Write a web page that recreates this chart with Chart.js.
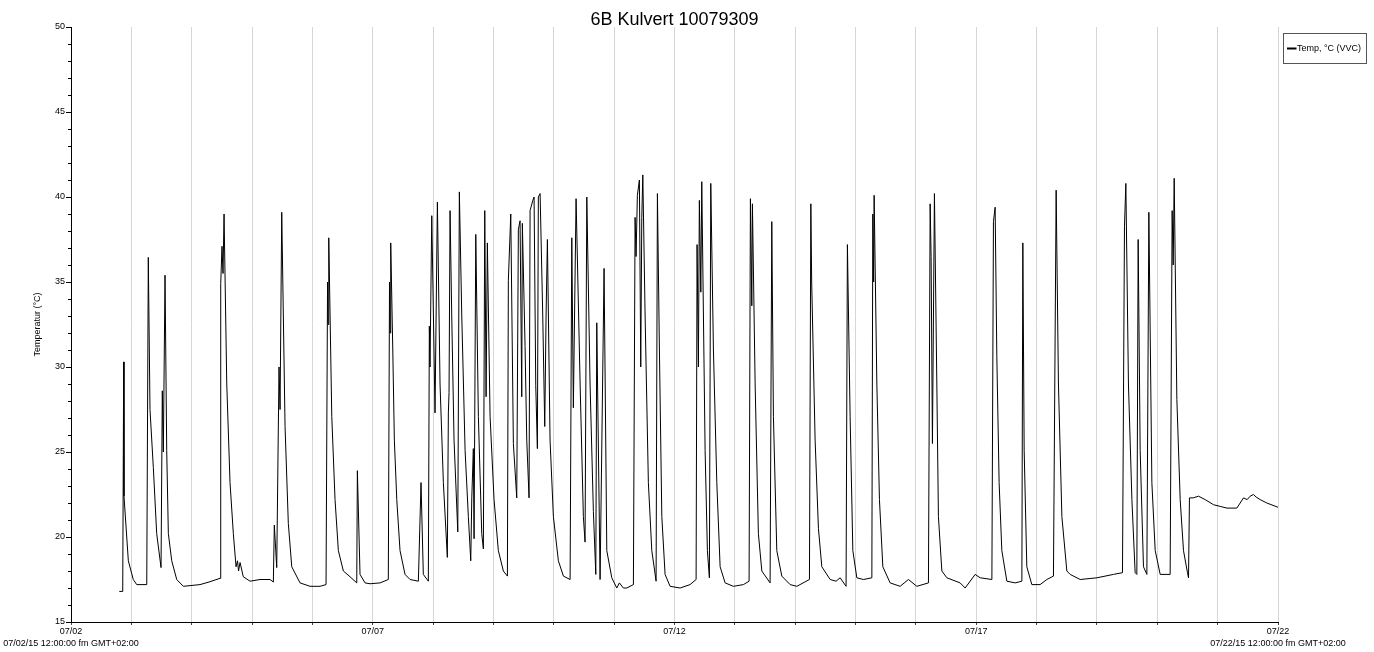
<!DOCTYPE html>
<html>
<head>
<meta charset="utf-8">
<title>6B Kulvert 10079309</title>
<script src="https://cdn.jsdelivr.net/npm/chart.js@4.4.0/dist/chart.umd.min.js"></script>
<style>
  html, body { margin: 0; padding: 0; background: #fff; }
  #wrap { width: 1374px; height: 652px; position: relative; }
</style>
</head>
<body>
<div id="wrap"><canvas id="chart"></canvas></div>
<script>
const chartTitle = "6B Kulvert 10079309";
const seriesLabel = "Temp, °C (VVC)";
const yTitle = "Temperatur (°C)";

// x tick labels (days since 07/02 00:00)
const tickDays = [0, 5, 10, 15, 20];
const tickLabels = ["07/02", "07/07", "07/12", "07/17", "07/22"];
const startStamp = "07/02/15 12:00:00 fm GMT+02:00";
const endStamp = "07/22/15 12:00:00 fm GMT+02:00";

// readings: time in days, temperature in °C
const days = [
  0.80, 0.857, 0.873, 0.878, 0.950, 1.032, 1.089,
  1.255, 1.281, 1.309, 1.364, 1.420, 1.492, 1.513, 1.530, 1.558, 1.586, 1.613, 1.669, 1.752, 1.861,
  2.138, 2.304, 2.469, 2.481, 2.502, 2.519, 2.536, 2.581, 2.635, 2.690, 2.735, 2.759, 2.776, 2.801, 2.855, 2.967,
  3.132, 3.298, 3.353, 3.369, 3.409, 3.447, 3.464, 3.492, 3.547, 3.601, 3.658, 3.795, 3.961,
  4.127, 4.226, 4.251, 4.259, 4.271, 4.321, 4.375, 4.430, 4.513, 4.624,
  4.735, 4.745, 4.789, 4.872, 4.955, 5.121,
  5.258, 5.278, 5.287, 5.298, 5.332, 5.358, 5.398, 5.452, 5.535, 5.618,
  5.756, 5.800, 5.838, 5.921,
  5.938, 5.949, 5.978, 6.032, 6.071, 6.115, 6.170, 6.236,
  6.253, 6.264, 6.281, 6.309, 6.347, 6.409,
  6.435, 6.475, 6.530, 6.584, 6.624, 6.641, 6.667, 6.679,
  6.707, 6.750, 6.806, 6.833, 6.856, 6.878, 6.899, 6.944, 7.010, 7.081, 7.164, 7.231,
  7.247, 7.287, 7.330, 7.386, 7.413, 7.441, 7.469, 7.479, 7.524, 7.552, 7.590,
  7.607, 7.652, 7.673, 7.701, 7.728, 7.744, 7.773, 7.817, 7.850, 7.872, 7.894, 7.938, 7.993, 8.076, 8.159, 8.270,
  8.298, 8.324, 8.369, 8.436, 8.490, 8.518, 8.547, 8.601, 8.656, 8.696, 8.712, 8.767, 8.833, 8.878, 8.961,
  9.044, 9.087, 9.153, 9.209, 9.319,
  9.347, 9.363, 9.385, 9.418, 9.441, 9.458, 9.475, 9.513, 9.567, 9.624, 9.695,
  9.717, 9.750, 9.790, 9.844, 9.927, 10.093, 10.258, 10.358,
  10.374, 10.396, 10.412, 10.436, 10.452, 10.507, 10.545, 10.578,
  10.601, 10.645, 10.701, 10.756, 10.839, 10.976, 11.142, 11.236,
  11.258, 11.281, 11.291, 11.336, 11.390, 11.447, 11.584,
  11.612, 11.639, 11.695, 11.778, 11.916, 12.027, 12.236,
  12.259, 12.273, 12.330, 12.385, 12.441, 12.579, 12.678, 12.745, 12.843,
  12.865, 12.910, 12.955, 13.021, 13.130, 13.270,
  13.286, 13.300, 13.308, 13.353, 13.396, 13.452, 13.573, 13.739, 13.876, 14.016, 14.208,
  14.236, 14.252, 14.274, 14.307, 14.347, 14.373, 14.430, 14.513, 14.733, 14.816, 14.982, 15.065, 15.259,
  15.285, 15.313, 15.341, 15.379, 15.424, 15.507, 15.645, 15.756,
  15.772, 15.794, 15.838, 15.921, 16.058, 16.169, 16.279,
  16.324, 16.362, 16.419, 16.501, 16.556, 16.722, 16.999, 17.274, 17.423,
  17.456, 17.479, 17.522, 17.579, 17.633, 17.661,
  17.683, 17.716, 17.771, 17.827, 17.860, 17.910, 17.965, 18.048, 18.213,
  18.246, 18.263, 18.280, 18.324, 18.379, 18.434, 18.500, 18.517,
  18.533, 18.594, 18.683, 18.793, 18.931, 19.042, 19.153, 19.318, 19.373, 19.428, 19.489, 19.539, 19.593, 19.638, 19.704, 19.815, 20.0
];
const temps = [
  16.8, 16.8, 30.3, 22.4, 18.6, 17.5, 17.2,
  17.2, 36.45, 27.5, 24.1, 20.2, 18.2, 28.6, 25.0, 35.4, 25.1, 20.2, 18.6, 17.5, 17.1,
  17.2, 17.37, 17.57, 34.9, 37.1, 35.5, 39.0, 29.0, 23.2, 20.2, 18.25, 18.6, 18.0, 18.5, 17.66, 17.4,
  17.5, 17.5, 17.35, 20.7, 18.2, 30.0, 27.5, 39.1, 26.5, 20.8, 18.25, 17.3, 17.1,
  17.1, 17.2, 35.0, 32.5, 37.6, 27.1, 22.2, 19.2, 18.0, 17.66,
  17.3, 23.9, 17.8, 17.3, 17.25, 17.3,
  17.5, 35.0, 32.0, 37.3, 31.0, 25.7, 22.2, 19.2, 17.8, 17.5,
  17.4, 23.2, 17.8, 17.4,
  32.4, 30.0, 38.9, 27.3, 39.7, 29.0, 23.2, 18.8,
  27.3, 28.5, 39.2, 33.0, 25.7, 20.3,
  40.3, 33.0, 25.1, 21.2, 18.6, 22.3, 25.2, 19.9,
  37.8, 27.1, 20.2, 19.3, 39.2, 28.25, 37.3, 27.1, 22.2, 19.2, 18.0, 17.7,
  35.1, 39.0, 25.5, 22.3, 38.1, 38.6, 28.25, 38.45, 31.2, 25.7, 22.3,
  39.2, 39.8, 40.0, 28.9, 25.2, 40.0, 40.2, 33.0, 26.5, 33.0, 37.5, 25.7, 21.2, 18.6, 17.7, 17.5,
  37.6, 27.6, 39.9, 29.0, 21.2, 19.7, 40.0, 29.0, 21.5, 17.8, 32.6, 17.5, 35.8, 19.2, 17.6,
  17.0, 17.3, 17.0, 17.0, 17.2,
  38.8, 36.5, 40.1, 41.0, 30.0, 38.8, 41.3, 33.0, 23.2, 19.2, 17.4,
  40.2, 31.0, 21.2, 17.8, 17.1, 17.0, 17.2, 17.5,
  37.2, 30.0, 39.8, 34.4, 40.9, 25.1, 19.2, 17.6,
  40.8, 31.0, 23.2, 18.25, 17.3, 17.1, 17.2, 17.4,
  39.9, 33.6, 39.6, 29.0, 20.2, 18.0, 17.3,
  38.55, 27.1, 19.2, 17.7, 17.2, 17.1, 17.5,
  39.6, 35.0, 25.7, 20.5, 18.25, 17.5, 17.4, 17.6, 17.1,
  37.2, 27.1, 19.2, 17.6, 17.5, 17.6,
  39.0, 35.0, 40.1, 29.0, 22.2, 18.25, 17.3, 17.1, 17.5, 17.1, 17.3,
  39.6, 36.5, 25.5, 40.2, 29.0, 21.2, 18.0, 17.6, 17.3, 17.0, 17.8, 17.6, 17.5,
  38.55, 39.4, 30.6, 23.2, 19.2, 17.4, 17.3, 17.4,
  37.3, 25.1, 18.25, 17.2, 17.2, 17.5, 17.7,
  40.4, 29.0, 21.2, 18.0, 17.8, 17.5, 17.6, 17.8, 17.9,
  38.25, 40.8, 29.0, 22.2, 17.9, 17.8,
  37.5, 25.1, 18.25, 17.8, 39.1, 23.2, 19.2, 17.8, 17.8,
  39.2, 36.0, 41.1, 28.1, 22.2, 19.2, 17.9, 17.6,
  22.3, 22.3, 22.4, 22.2, 21.9, 21.8, 21.7, 21.7, 22.0, 22.3, 22.2, 22.4, 22.5, 22.35, 22.2, 22.0, 21.75
];

const FONT = 'Arial, "Liberation Sans", sans-serif';

// title, minor y ticks and the boxed legend
const decor = {
  id: "decor",
  afterDraw(chart) {
    const { ctx, chartArea: area, scales } = chart;
    ctx.save();
    ctx.fillStyle = "#000";
    ctx.font = "18px " + FONT;
    ctx.textAlign = "center";
    ctx.textBaseline = "alphabetic";
    ctx.fillText(chartTitle, (area.left + area.right) / 2, 25);

    ctx.strokeStyle = "#000";
    ctx.lineWidth = 1;
    const ys = scales.y;
    for (let v = ys.min + 1; v < ys.max; v++) {
      if (v % 5 === 0) continue;
      const py = Math.round(ys.getPixelForValue(v)) + 0.5;
      ctx.beginPath();
      ctx.moveTo(area.left - 3, py);
      ctx.lineTo(area.left, py);
      ctx.stroke();
    }

    // legend
    const lx = area.right + 5.5;
    ctx.strokeStyle = "#555";
    ctx.strokeRect(lx, 33.5, 83, 30);
    ctx.strokeStyle = "#000";
    ctx.lineWidth = 2;
    ctx.beginPath();
    ctx.moveTo(lx + 3.5, 48.5);
    ctx.lineTo(lx + 13, 48.5);
    ctx.stroke();
    ctx.font = "9px " + FONT;
    ctx.textAlign = "left";
    ctx.textBaseline = "middle";
    ctx.fillText(seriesLabel, lx + 13.5, 48.5);
    ctx.restore();
  }
};

new Chart(document.getElementById("chart"), {
  type: "line",
  data: {
    datasets: [{
      label: seriesLabel,
      data: days.map((d, i) => ({ x: d, y: temps[i] })),
      borderColor: "#000",
      borderWidth: 1,
      pointRadius: 0,
      tension: 0,
      fill: false
    }]
  },
  options: {
    responsive: true,
    maintainAspectRatio: false,
    animation: false,
    devicePixelRatio: 1,
    layout: { padding: { top: 27, right: 96, left: 0, bottom: 0 } },
    plugins: {
      legend: { display: false },
      title: { display: false },
      tooltip: { enabled: false }
    },
    scales: {
      x: {
        type: "linear",
        min: 0,
        max: 20,
        ticks: {
          stepSize: 1,
          autoSkip: false,
          maxRotation: 0,
          minRotation: 0,
          padding: 1,
          color: "#000",
          font: { family: FONT, size: 9, lineHeight: 1.3 },
          callback: (v) => {
            const i = tickDays.indexOf(v);
            if (i < 0) return "";
            if (i === 0) return [tickLabels[i], startStamp];
            if (i === tickDays.length - 1) return [tickLabels[i], endStamp];
            return tickLabels[i];
          }
        },
        grid: { color: "#d6d6d6", tickColor: "#444", tickLength: 3, lineWidth: 1 },
        border: { color: "#000", width: 1 },
        afterFit: (axis) => {
          axis.height = 30;
          axis.paddingLeft = 0;
          axis.paddingRight = 0;
        }
      },
      y: {
        min: 15,
        max: 50,
        ticks: {
          stepSize: 5,
          padding: 1,
          color: "#000",
          font: { family: FONT, size: 9 }
        },
        grid: { drawOnChartArea: false, tickLength: 5, tickColor: "#000" },
        border: { color: "#000", width: 1 },
        title: {
          display: true,
          text: yTitle,
          color: "#000",
          font: { family: FONT, size: 9 },
          padding: { top: 32, bottom: 0 }
        },
        afterFit: (axis) => {
          axis.width = 71;
          axis.paddingTop = 0;
          axis.paddingBottom = 0;
        }
      }
    }
  },
  plugins: [decor]
});
</script>
</body>
</html>
